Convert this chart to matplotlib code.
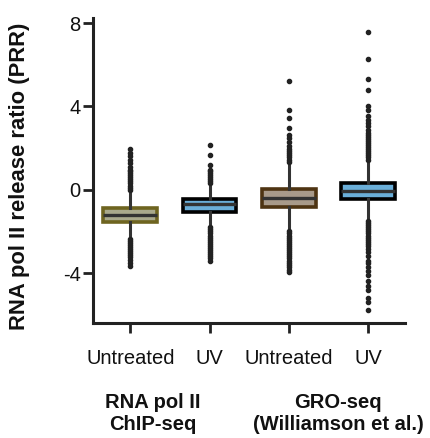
import matplotlib
matplotlib.use("Agg")
import matplotlib.pyplot as plt

plt.rcParams['font.family'] = ['Liberation Sans', 'DejaVu Sans']

labels = ["Untreated", "UV", "Untreated", "UV"]
groups = ["RNA pol II\nChIP-seq", "GRO-seq\n(Williamson et al.)"]
q1 = [-1.57, -1.06, -0.83, -0.45]
med = [-1.23, -0.70, -0.38, -0.06]
q3 = [-0.88, -0.43, 0.03, 0.34]
wlo = [-2.32, -1.76, -1.92, -1.44]
whi = [-0.08, 0.24, 1.28, 1.36]
fliers = [
    [0.0, 0.1, 0.2, 0.3, 0.4, 0.5, 0.6, 0.7, 0.8, 0.9, 0.96, 1.1, 1.3, 1.45, 1.6, 1.75, 1.97,
     -2.35, -2.45, -2.55, -2.65, -2.75, -2.85, -2.95, -3.05, -3.15, -3.25, -3.36, -3.5, -3.68],
    [0.3, 0.4, 0.5, 0.6, 0.7, 0.8, 0.9, 0.96, 1.2, 1.65, 2.13,
     -1.8, -1.9, -2.0, -2.1, -2.2, -2.3, -2.4, -2.5, -2.6, -2.7, -2.8, -2.9, -3.0, -3.1, -3.2, -3.3, -3.41],
    [1.35, 1.45, 1.55, 1.65, 1.75, 1.85, 1.95, 2.08, 2.3, 2.48, 2.64, 2.96, 3.44, 3.84, 5.2,
     -2.0, -2.1, -2.2, -2.3, -2.4, -2.5, -2.6, -2.7, -2.8, -2.9, -3.0, -3.1, -3.2, -3.3, -3.4,
     -3.5, -3.6, -3.7, -3.84, -3.97],
    [1.45, 1.55, 1.65, 1.75, 1.85, 1.95, 2.05, 2.15, 2.25, 2.35, 2.45, 2.55, 2.65, 2.72, 2.85,
     3.04, 3.2, 3.35, 3.52, 3.84, 4.03, 4.77, 5.31, 6.29, 7.58,
     -1.5, -1.6, -1.7, -1.8, -1.9, -2.0, -2.1, -2.2, -2.3, -2.4, -2.5, -2.6, -2.72, -2.85,
     -3.0, -3.2, -3.4, -3.5, -3.7, -3.9, -4.1, -4.4, -4.6, -4.8, -5.2, -5.4, -5.76],
]
face_colors = ["#a9a98c", "#6aaed8", "#a89a8a", "#6aaed8"]
edge_colors = ["#6e6420", "#000000", "#4e3412", "#000000"]

fig = plt.figure(figsize=(4.31, 4.38), dpi=100)
ax = fig.add_axes([0.216, 0.2626, 0.724, 0.6964])

stats = []
for i in range(4):
    stats.append(dict(med=med[i], q1=q1[i], q3=q3[i], whislo=wlo[i], whishi=whi[i],
                      fliers=fliers[i], label=labels[i]))

positions = list(range(4))
bp = ax.bxp(stats, positions=positions, widths=0.68, patch_artist=True, showcaps=False,
            medianprops=dict(color="#333333", linewidth=2.4),
            whiskerprops=dict(color="#333333", linewidth=2.2),
            flierprops=dict(marker='o', markersize=3.0, markerfacecolor="#222222",
                            markeredgecolor="#222222", linestyle='none'))
for patch, fc, ec in zip(bp['boxes'], face_colors, edge_colors):
    patch.set_facecolor(fc)
    patch.set_edgecolor(ec)
    patch.set_linewidth(2.6)

ax.set_xlim(-0.47, 3.47)
ax.set_ylim(-6.4, 8.25)
ax.set_yticks([-4, 0, 4, 8])
ax.set_yticklabels(["-4", "0", "4", "8"])
ax.set_xticks(positions)
ax.set_xticklabels(labels)
for s in ["top", "right"]:
    ax.spines[s].set_visible(False)
for s in ["left", "bottom"]:
    ax.spines[s].set_linewidth(2.2)
    ax.spines[s].set_color("#222222")
ax.tick_params(axis='both', length=7.5, width=2.0, color="#222222", labelsize=14.5, labelcolor="#111111")
ax.tick_params(axis='x', pad=11)
ax.tick_params(axis='y', pad=1.5)

# y label placed as figure text, font size fitted to the reference's label length
ylab = fig.text(20 / 431, 1 - 176 / 438, "RNA pol II release ratio (PRR)", rotation=90,
                ha='center', va='center', fontsize=13, fontweight='bold', color="#111111")
fig.canvas.draw()
renderer = fig.canvas.get_renderer()
h = ylab.get_window_extent(renderer).height
ylab.set_fontsize(13 * 306 / h)

fig.text(153 / 431, 1 - 414 / 438, groups[0], ha='center', va='center', fontsize=14.5,
         fontweight='bold', linespacing=1.2, color="#111111")
fig.text(338 / 431, 1 - 414 / 438, groups[1], ha='center', va='center', fontsize=14.5,
         fontweight='bold', linespacing=1.2, color="#111111")

fig.savefig("out.png", dpi=100)
